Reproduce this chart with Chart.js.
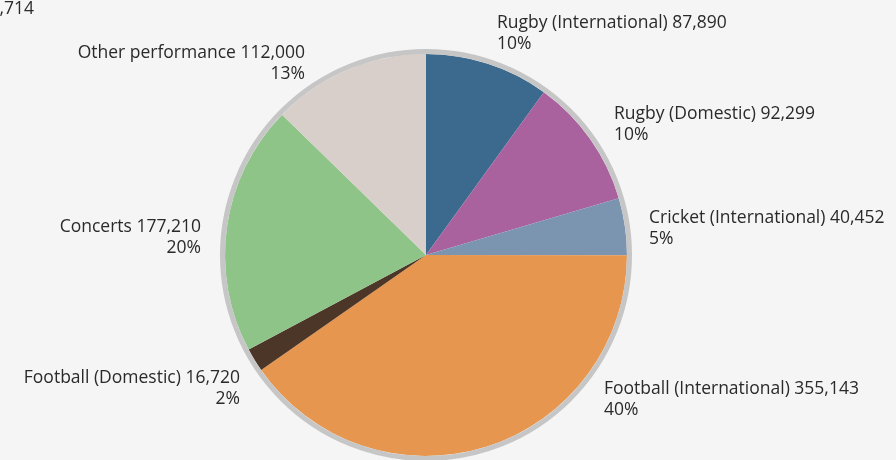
<!DOCTYPE html>
<html>
<head>
<meta charset="utf-8">
<script src="https://cdn.jsdelivr.net/npm/chart.js@4"></script>
<style>
  html, body { margin: 0; padding: 0; background: #f4f5f4; }
  #wrap { width: 896px; height: 460px; position: relative; }
</style>
</head>
<body>
<div id="wrap"><canvas id="chart" width="896" height="460"></canvas></div>
<script>
const categories = [
  'Rugby (International)',
  'Rugby (Domestic)',
  'Cricket (International)',
  'Football (International)',
  'Football (Domestic)',
  'Concerts',
  'Other performance'
];
const attendance = [87890, 92299, 40452, 355143, 16720, 177210, 112000];
const colours = ['#3b6a8e', '#a9629d', '#7b95b1', '#e6964f', '#4b3627', '#8fc489', '#d8cfca'];

const total = attendance.reduce((a, b) => a + b, 0);
const fmt = n => n.toLocaleString('en-GB');

// where each label block sits: [x, y of first baseline, align]
const labelSpots = [
  [497, 28, 'left'],
  [614, 119, 'left'],
  [649, 223, 'left'],
  [604, 394, 'left'],
  [240, 383, 'right'],
  [201, 232, 'right'],
  [305, 58, 'right']
];

const labelPlugin = {
  id: 'sliceLabels',
  afterDatasetsDraw(chart) {
    const ctx = chart.ctx;
    const arc = chart.getDatasetMeta(0).data[0];
    // grey ring round the pie
    ctx.save();
    ctx.beginPath();
    ctx.arc(arc.x, arc.y, arc.outerRadius + 2.5, 0, Math.PI * 2);
    ctx.lineWidth = 5;
    ctx.strokeStyle = '#c6c6c6';
    ctx.stroke();

    ctx.font = '17.5px "Open Sans"';
    ctx.fillStyle = '#2a2a2a';
    ctx.textBaseline = 'alphabetic';
    attendance.forEach((v, i) => {
      const [x, y, align] = labelSpots[i];
      ctx.textAlign = align;
      ctx.fillText(categories[i] + ' ' + fmt(v), x, y);
      ctx.fillText(Math.round(v / total * 100) + '%', x, y + 21);
    });
    // total, clipped at the left edge
    ctx.textAlign = 'right';
    ctx.fillText('Total ' + fmt(total), 34, 14);
    ctx.restore();
  }
};

new Chart(document.getElementById('chart'), {
  type: 'pie',
  data: {
    labels: categories,
    datasets: [{
      data: attendance,
      backgroundColor: colours,
      borderWidth: 0
    }]
  },
  options: {
    responsive: false,
    animation: false,
    layout: { padding: { left: 225, right: 269, top: 54, bottom: 4 } },
    plugins: {
      legend: { display: false },
      tooltip: { enabled: false }
    }
  },
  plugins: [labelPlugin]
});
</script>
</body>
</html>
